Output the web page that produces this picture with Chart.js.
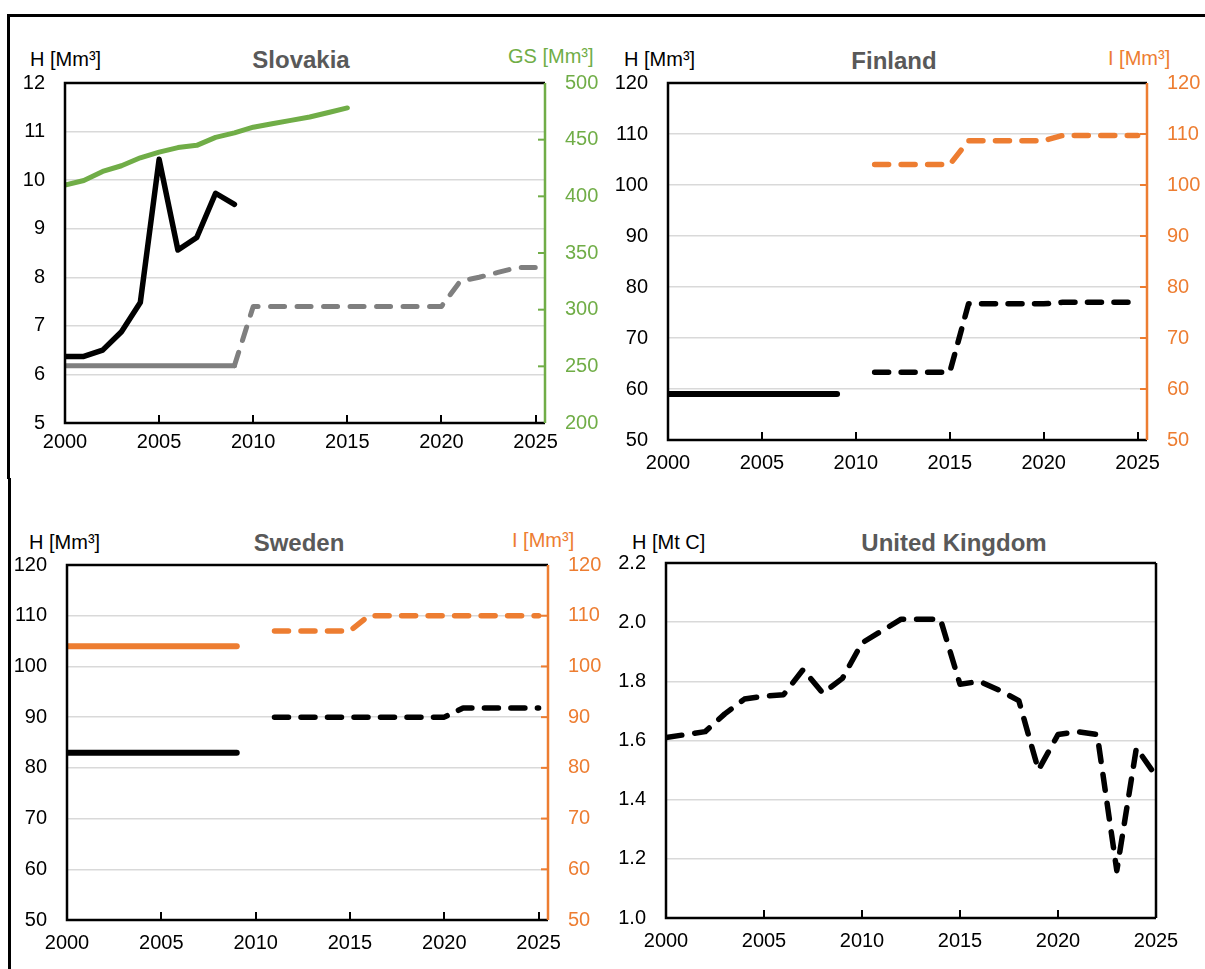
<!DOCTYPE html>
<html>
<head>
<meta charset="utf-8">
<title>Harvest and increment</title>
<script src="https://cdn.jsdelivr.net/npm/chart.js@4.4.1/dist/chart.umd.min.js"></script>
<style>
  body { margin: 0; width: 1205px; height: 969px; overflow: hidden; position: relative; background: #fff;
         font-family: 'Liberation Sans', Arial, sans-serif; }
  canvas { position: absolute; }
  .unit { position: absolute; font-size: 20px; line-height: 22px; white-space: nowrap; color: #000; }
  .title { position: absolute; font-size: 24px; line-height: 28px; font-weight: bold; color: #595959;
           white-space: nowrap; transform: translateX(-50%); }
  .rule { position: absolute; background: #000; }
</style>
</head>
<body>
<div class="rule" style="left:7px;top:14px;width:1198px;height:3px"></div>
<div class="rule" style="left:7px;top:14px;width:3px;height:465px"></div>
<div class="rule" style="left:8px;top:478px;width:3px;height:491px"></div>

<div class="unit" style="left:30px;top:48px">H [Mm³]</div>
<div class="title" style="left:301px;top:46px">Slovakia</div>
<div class="unit" style="left:508px;top:45px;color:#70ad47">GS [Mm³]</div>

<div class="unit" style="left:624px;top:48px">H [Mm³]</div>
<div class="title" style="left:894px;top:47px">Finland</div>
<div class="unit" style="left:1108px;top:47px;color:#ed7d31">I [Mm³]</div>

<div class="unit" style="left:29px;top:531px">H [Mm³]</div>
<div class="title" style="left:299px;top:529px">Sweden</div>
<div class="unit" style="left:512px;top:529px;color:#ed7d31">I [Mm³]</div>

<div class="unit" style="left:632px;top:531px">H [Mt C]</div>
<div class="title" style="left:954px;top:529px">United Kingdom</div>

<canvas id="sk" width="605" height="430" style="left:0px;top:40px"></canvas>
<canvas id="fi" width="600" height="445" style="left:605px;top:40px"></canvas>
<canvas id="se" width="605" height="445" style="left:0px;top:520px"></canvas>
<canvas id="uk" width="600" height="445" style="left:605px;top:520px"></canvas>

<script>
const N = null;
const years = [2000, 2001, 2002, 2003, 2004, 2005, 2006, 2007, 2008, 2009, 2010, 2011, 2012,
               2013, 2014, 2015, 2016, 2017, 2018, 2019, 2020, 2021, 2022, 2023, 2024, 2025];

// Slovakia: harvest H (left), growing stock GS (right)
const skHarvest = [6.37, 6.37, 6.5, 6.88, 7.48, 10.43, 8.56, 8.82, 9.73, 9.5,
                   N, N, N, N, N, N, N, N, N, N, N, N, N, N, N, N];
const skReference = [6.18, 6.18, 6.18, 6.18, 6.18, 6.18, 6.18, 6.18, 6.18, 6.18,
                     N, N, N, N, N, N, N, N, N, N, N, N, N, N, N, N];
const skReferenceProj = [N, N, N, N, N, N, N, N, N, 6.18, 7.4, 7.4, 7.4, 7.4, 7.4, 7.4, 7.4, 7.4,
                         7.4, 7.4, 7.4, 7.92, 8.0, 8.1, 8.2, 8.2];
const skGrowingStock = [410, 414, 422, 427, 434, 439, 443, 445, 452, 456, 461, 464, 467, 470, 474, 478,
                        N, N, N, N, N, N, N, N, N, N];

// Finland: harvest H (left), increment I (right)
const fiHarvest = [59, 59, 59, 59, 59, 59, 59, 59, 59, 59,
                   N, N, N, N, N, N, N, N, N, N, N, N, N, N, N, N];
const fiHarvestProj = [N, N, N, N, N, N, N, N, N, N, N, 63.3, 63.3, 63.3, 63.3, 63.3,
                       76.7, 76.7, 76.7, 76.7, 76.7, 77.0, 77.0, 77.0, 77.0, 77.0];
const fiIncrementProj = [N, N, N, N, N, N, N, N, N, N, N, 104, 104, 104, 104, 104,
                         108.7, 108.7, 108.7, 108.7, 108.7, 109.7, 109.7, 109.7, 109.7, 109.7];

// Sweden
const seHarvest = [83, 83, 83, 83, 83, 83, 83, 83, 83, 83,
                   N, N, N, N, N, N, N, N, N, N, N, N, N, N, N, N];
const seIncrement = [104, 104, 104, 104, 104, 104, 104, 104, 104, 104,
                     N, N, N, N, N, N, N, N, N, N, N, N, N, N, N, N];
const seHarvestProj = [N, N, N, N, N, N, N, N, N, N, N, 90, 90, 90, 90, 90, 90, 90, 90, 90, 90,
                       91.8, 91.8, 91.8, 91.8, 91.8];
const seIncrementProj = [N, N, N, N, N, N, N, N, N, N, N, 107, 107, 107, 107, 107,
                         110, 110, 110, 110, 110, 110, 110, 110, 110, 110];

// United Kingdom (Mt C)
const ukHarvest = [1.61, 1.62, 1.63, 1.69, 1.74, 1.75, 1.755, 1.84, 1.76, 1.81, 1.93, 1.97, 2.01,
                   2.01, 2.01, 1.79, 1.80, 1.77, 1.735, 1.50, 1.62, 1.63, 1.62, 1.16, 1.575, 1.48];

const BLACK = '#000000', GRAY = '#7f7f7f', GREEN = '#70ad47', ORANGE = '#ed7d31';

Chart.defaults.font.family = "'Liberation Sans', Arial, sans-serif";
Chart.defaults.font.size = 20;
Chart.defaults.color = '#000';

function series(values) {
  return years.map((x, i) => ({ x: x, y: values[i] }));
}

function line(values, color, extra) {
  return Object.assign({
    data: series(values),
    borderColor: color,
    borderWidth: 5.5,
    pointRadius: 0,
    tension: 0,
    fill: false,
    borderCapStyle: 'round',
    borderJoinStyle: 'round',
    yAxisID: 'y'
  }, extra || {});
}

const dashed = { borderDash: [14, 12.5], borderWidth: 5.5 };

// axis box, inner tick marks
const framePlugin = {
  id: 'frame',
  afterDatasetsDraw(chart, args, opts) {
    const { ctx, chartArea: a, scales } = chart;
    ctx.save();
    ctx.lineCap = 'butt';
    ctx.lineWidth = 2;
    ctx.strokeStyle = BLACK;
    scales.x.ticks.forEach(t => {
      const px = Math.round(scales.x.getPixelForValue(t.value));
      ctx.beginPath();
      ctx.moveTo(px, a.bottom);
      ctx.lineTo(px, a.bottom - 8);
      ctx.stroke();
    });
    if (scales.y2) {
      ctx.strokeStyle = opts.rightColor;
      scales.y2.ticks.forEach(t => {
        const py = scales.y2.getPixelForValue(t.value);
        ctx.beginPath();
        ctx.moveTo(a.right, py);
        ctx.lineTo(a.right - 7, py);
        ctx.stroke();
      });
    }
    ctx.lineWidth = 2.5;
    ctx.strokeStyle = BLACK;
    ctx.beginPath();
    ctx.moveTo(a.right, a.top);
    ctx.lineTo(a.left, a.top);
    ctx.lineTo(a.left, a.bottom);
    ctx.lineTo(a.right, a.bottom);
    ctx.stroke();
    ctx.strokeStyle = opts.rightColor;
    ctx.beginPath();
    ctx.moveTo(a.right, a.top);
    ctx.lineTo(a.right, a.bottom);
    ctx.stroke();
    ctx.restore();
  }
};

// box = canvas position on page, area = wanted plot area on page
function makeChart(id, box, area, datasets, left, right, xAxis, rightColor) {
  const scales = {
    x: {
      type: 'linear', min: 2000, max: xAxis.max,
      ticks: { stepSize: 5, includeBounds: false, padding: xAxis.pad, maxRotation: 0, autoSkip: false,
               callback: v => String(v) },
      grid: { display: false, drawTicks: false },
      border: { display: false },
      afterFit: s => { s.height = box.top + box.height - area.bottom; }
    },
    y: {
      position: 'left', min: left.min, max: left.max,
      ticks: { stepSize: left.step, padding: 20, callback: left.format || (v => String(v)) },
      grid: { color: '#d9d9d9', lineWidth: 1.5, drawTicks: false },
      border: { display: false },
      afterFit: s => { s.width = area.left - box.left; }
    }
  };
  if (right) {
    scales.y2 = {
      position: 'right', min: right.min, max: right.max,
      ticks: { stepSize: right.step, padding: 20, color: rightColor },
      grid: { display: false, drawTicks: false },
      border: { display: false },
      afterFit: s => { s.width = box.left + box.width - area.right; }
    };
  }
  return new Chart(document.getElementById(id), {
    type: 'line',
    data: { datasets: datasets },
    options: {
      responsive: false,
      animation: false,
      layout: { padding: { top: area.top - box.top, left: 0, bottom: 0,
                           right: right ? 0 : box.left + box.width - area.right } },
      scales: scales,
      plugins: {
        legend: { display: false },
        tooltip: { enabled: false },
        frame: { rightColor: rightColor }
      }
    },
    plugins: [framePlugin]
  });
}

makeChart('sk',
  { left: 0, top: 40, width: 605, height: 430 },
  { left: 65, top: 83, right: 545, bottom: 423 },
  [
    line(skHarvest, BLACK),
    line(skReference, GRAY, { borderWidth: 5 }),
    line(skReferenceProj, GRAY, Object.assign({}, dashed, { borderWidth: 5 })),
    line(skGrowingStock, GREEN, { borderWidth: 5, yAxisID: 'y2' })
  ],
  { min: 5, max: 12, step: 1 }, { min: 200, max: 500, step: 50 }, { max: 2025.5, pad: 7 }, GREEN);

makeChart('fi',
  { left: 605, top: 40, width: 600, height: 445 },
  { left: 668, top: 83, right: 1147, bottom: 440 },
  [
    line(fiHarvest, BLACK, { borderWidth: 6 }),
    line(fiHarvestProj, BLACK, dashed),
    line(fiIncrementProj, ORANGE, Object.assign({ yAxisID: 'y2' }, dashed))
  ],
  { min: 50, max: 120, step: 10 }, { min: 50, max: 120, step: 10 }, { max: 2025.5, pad: 11 }, ORANGE);

makeChart('se',
  { left: 0, top: 520, width: 605, height: 445 },
  { left: 67, top: 565, right: 548, bottom: 920 },
  [
    line(seHarvest, BLACK, { borderWidth: 6 }),
    line(seIncrement, ORANGE, { borderWidth: 6, yAxisID: 'y2' }),
    line(seHarvestProj, BLACK, dashed),
    line(seIncrementProj, ORANGE, Object.assign({ yAxisID: 'y2' }, dashed))
  ],
  { min: 50, max: 120, step: 10 }, { min: 50, max: 120, step: 10 }, { max: 2025.5, pad: 11 }, ORANGE);

makeChart('uk',
  { left: 605, top: 520, width: 600, height: 445 },
  { left: 666, top: 563, right: 1156, bottom: 918 },
  [
    line(ukHarvest, BLACK, Object.assign({}, dashed, { borderDash: [16, 13] }))
  ],
  { min: 1.0, max: 2.2, step: 0.2, format: v => v.toFixed(1) }, null, { max: 2025, pad: 11 }, BLACK);
</script>
</body>
</html>
